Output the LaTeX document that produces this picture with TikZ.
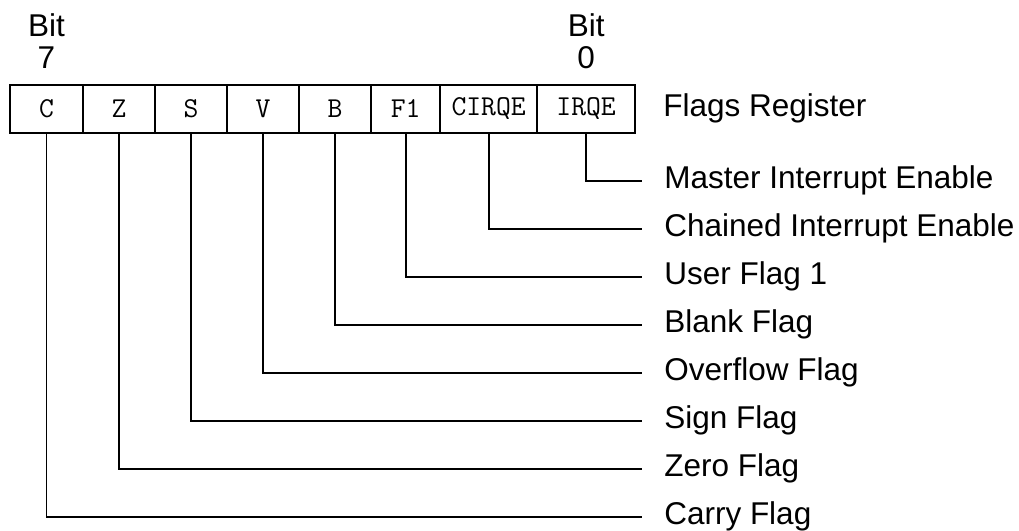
\documentclass[tikz,border=0pt]{standalone}
\usepackage{fontspec}
\setmainfont{Liberation Sans}
\usetikzlibrary{positioning}
\tikzset{cell/.style = {
    draw,
    line width = 1.8pt,
    outer sep = 0pt,
    inner sep = 0pt,
    minimum height = 1.2cm,
    font = \ttfamily\fontsize{20.5}{22}\selectfont
}}
\tikzset{flag/.style = {
    anchor = west,
    inner xsep = 0.55cm,
    inner ysep = 0pt,
    text height = 11pt,
    text depth = 0pt,
    font = \fontsize{22.4}{26}\selectfont
}}
\tikzset{bitnum/.style = {
    anchor = north,
    align = center,
    inner sep = 0pt,
    font = \fontsize{22.4}{22.8}\selectfont
}}
\tikzset{leader/.style = {
    line width = 1.3pt
}}

\begin{document}
\begin{tikzpicture}[x = 0.025cm, y = -0.025cm]
    \useasboundingbox
        (0, 0) rectangle (1019, 531)
    ;

    % Register
    \node [cell, minimum width = 1.825cm] (bitC) at (46.5, 109) {C};
    \node [cell, minimum width = 1.8cm, right = 0pt of bitC] (bitZ) {Z};
    \node [cell, minimum width = 1.8cm, right = 0pt of bitZ] (bitS) {S};
    \node [cell, minimum width = 1.8cm, right = 0pt of bitS] (bitV) {V};
    \node [cell, minimum width = 1.8cm, right = 0pt of bitV] (bitB) {B};
    \node [cell, minimum width = 1.725cm, right = 0pt of bitB] (bitF) {F1};
    \node [cell, minimum width = 2.425cm, right = 0pt of bitF] (bitCI) {CIRQE};
    \node [cell, minimum width = 2.45cm, right = 0pt of bitCI] (bitI) {IRQE};

    \node [bitnum] (msb) at (bitC.center |- 0, 13) {Bit\\7};
    \node [bitnum] (lsb) at (bitI.center |- 0, 13) {Bit\\0};
    \node [flag, right = 0.15cm of bitI] (reg) {Flags Register};

    % Labels
    \node [flag] (lblI) at (642, 181) {Master Interrupt Enable};
    \node [flag] (lblCI) at (642, 229) {Chained Interrupt Enable};
    \node [flag] (lblF) at (642, 277) {User Flag 1};
    \node [flag] (lblB) at (642, 325) {Blank Flag};
    \node [flag] (lblV) at (642, 373) {Overflow Flag};
    \node [flag] (lblS) at (642, 421) {Sign Flag};
    \node [flag] (lblZ) at (642, 469) {Zero Flag};
    \node [flag] (lblC) at (642, 517) {Carry Flag};

    % Lines
    \draw [leader] (bitI.south) |- (lblI.west);
    \draw [leader] (bitCI.south) |- (lblCI.west);
    \draw [leader] (bitF.south) |- (lblF.west);
    \draw [leader] (bitB.south) |- (lblB.west);
    \draw [leader] (bitV.south) |- (lblV.west);
    \draw [leader] (bitS.south) |- (lblS.west);
    \draw [leader] (bitZ.south) |- (lblZ.west);
    \draw [leader] (bitC.south) |- (lblC.west);

\end{tikzpicture}
\end{document}
